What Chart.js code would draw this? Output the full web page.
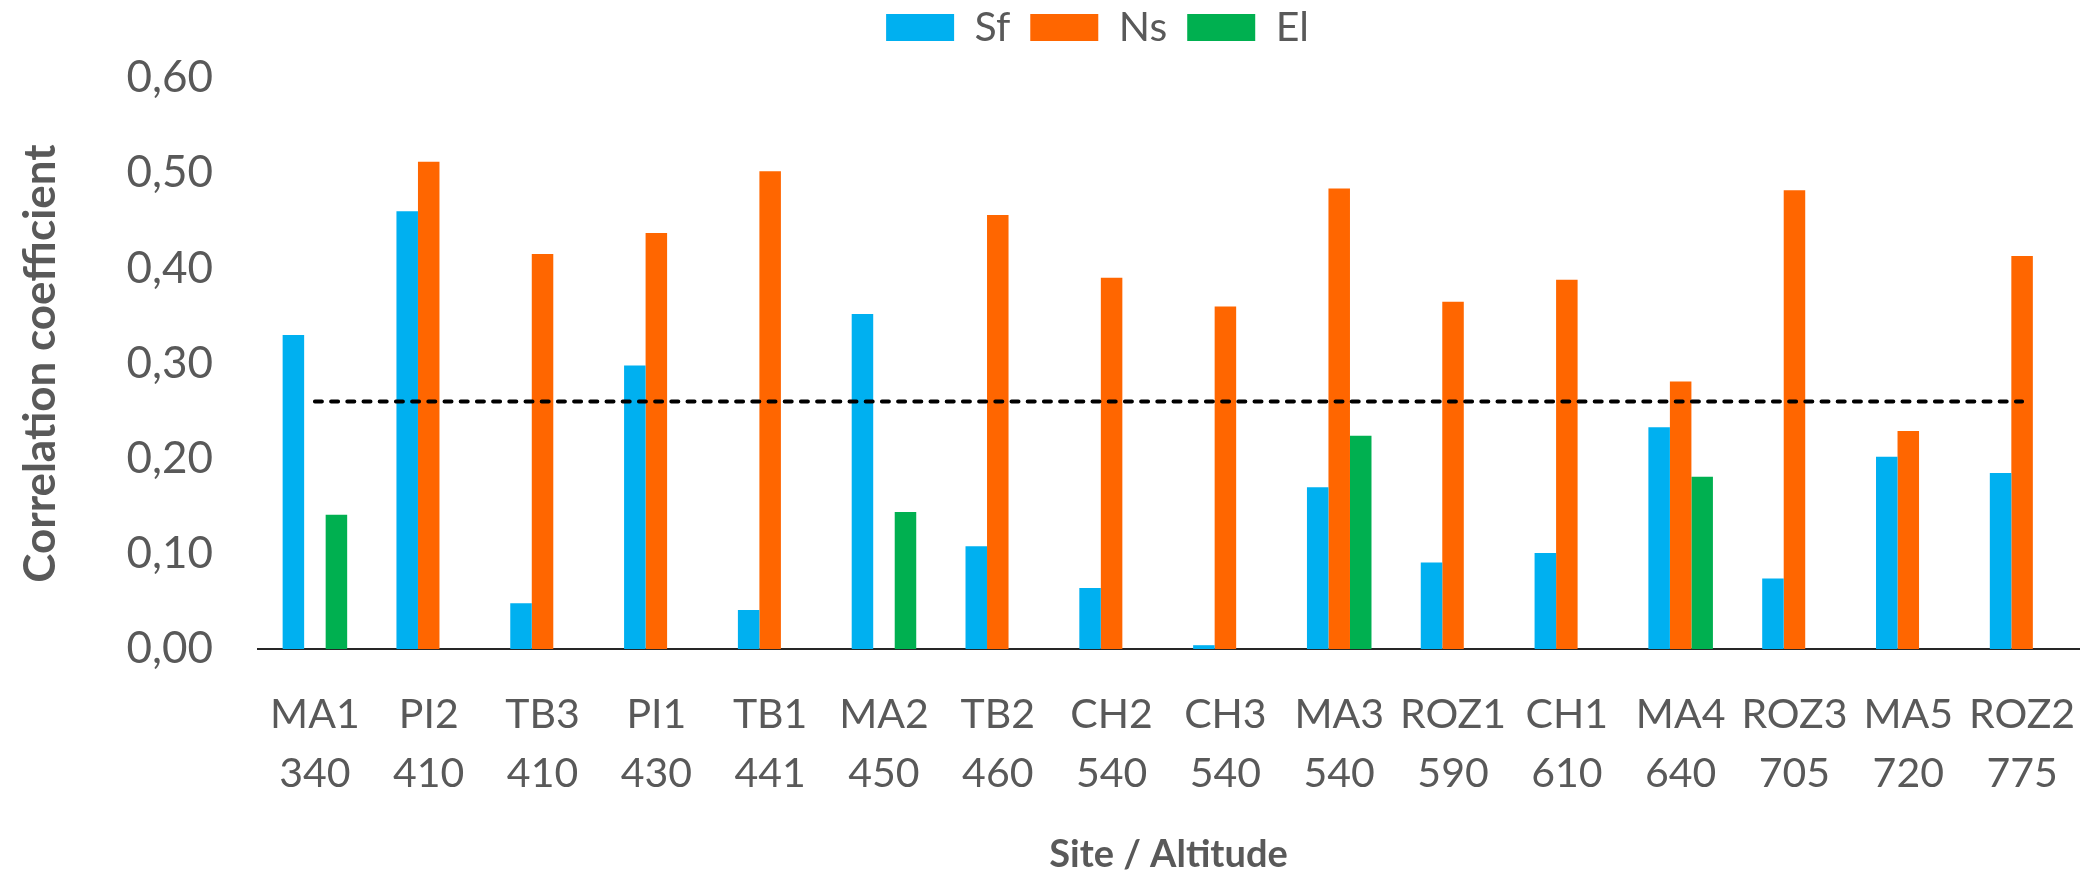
<!DOCTYPE html>
<html>
<head>
<meta charset="utf-8">
<title>Correlation coefficient by site</title>
<script src="https://cdn.jsdelivr.net/npm/chart.js@4.4.1/dist/chart.umd.min.js"></script>
<style>
  html, body { margin: 0; padding: 0; background: #fff; }
  #wrap { width: 2088px; height: 873px; }
</style>
</head>
<body>
<div id="wrap"><canvas id="corrChart" width="2088" height="873"></canvas></div>
<script>
// Sites ordered by altitude
const sites = ['MA1', 'PI2', 'TB3', 'PI1', 'TB1', 'MA2', 'TB2', 'CH2', 'CH3', 'MA3', 'ROZ1', 'CH1', 'MA4', 'ROZ3', 'MA5', 'ROZ2'];
const altitudes = ['340', '410', '410', '430', '441', '450', '460', '540', '540', '540', '590', '610', '640', '705', '720', '775'];

const sfValues = [0.330, 0.460, 0.048, 0.298, 0.041, 0.352, 0.108, 0.064, 0.004, 0.170, 0.091, 0.101, 0.233, 0.074, 0.202, 0.185];
const nsValues = [null, 0.512, 0.415, 0.437, 0.502, null, 0.456, 0.390, 0.360, 0.484, 0.365, 0.388, 0.281, 0.482, 0.229, 0.413];
const elValues = [0.141, null, null, null, null, 0.144, null, null, null, 0.224, null, null, 0.181, null, null, null];

// significance threshold (dashed line)
const thresholdValues = [0.26, 0.26, 0.26, 0.26, 0.26, 0.26, 0.26, 0.26, 0.26, 0.26, 0.26, 0.26, 0.26, 0.26, 0.26, 0.26];

const yTicks = [0, 0.1, 0.2, 0.3, 0.4, 0.5, 0.6];

const textColor = '#595959';
Chart.defaults.font.family = 'Lato, Carlito, Calibri, sans-serif';
Chart.defaults.color = textColor;

// Excel puts the legend a bit right of centre and higher in its box
const legendNudge = {
    id: 'legendNudge',
    afterLayout(chart) {
        const lg = chart.legend;
        lg.left += 58;
        lg.right += 58;
        lg.top -= 20;
        lg.bottom -= 20;
    }
};

const ctx = document.getElementById('corrChart').getContext('2d');

const myChart = new Chart(ctx, {
    type: 'bar',
    data: {
        labels: sites.map((s, i) => [s, altitudes[i]]),
        datasets: [
            {
                type: 'line',
                label: 'threshold',
                data: thresholdValues,
                borderColor: '#000000',
                borderWidth: 4,
                borderDash: [7, 9.2],
                borderCapStyle: 'round',
                pointRadius: 0,
                fill: false,
                order: 0
            },
            { label: 'Sf', data: sfValues, backgroundColor: '#00B0F0', order: 1 },
            { label: 'Ns', data: nsValues, backgroundColor: '#FF6600', order: 1 },
            { label: 'El', data: elValues, backgroundColor: '#00B050', order: 1 }
        ]
    },
    options: {
        responsive: false,
        animation: false,
        layout: { padding: { top: 7, right: 9, bottom: 0, left: 0 } },
        datasets: {
            bar: { barPercentage: 1.0, categoryPercentage: 0.567 }
        },
        plugins: {
            legend: {
                position: 'top',
                labels: {
                    boxWidth: 68,
                    boxHeight: 27,
                    padding: 20,
                    color: textColor,
                    font: { size: 41 },
                    filter: item => item.text !== 'threshold'
                }
            },
            tooltip: { enabled: false }
        },
        scales: {
            x: {
                // hidden tick marks give the label gap without padding the sides
                grid: { display: false, drawTicks: true, tickLength: 36 },
                border: { display: true, color: '#262626', width: 2 },
                ticks: {
                    color: textColor,
                    font: { size: 41, lineHeight: 1.44 },
                    padding: 0,
                    maxRotation: 0,
                    autoSkip: false
                },
                title: {
                    display: true,
                    text: 'Site / Altitude',
                    color: textColor,
                    font: { size: 38, weight: 'bold', lineHeight: 0.95 },
                    padding: { top: 0, bottom: 0 }
                },
                afterFit: scale => { scale.height = 224; }
            },
            y: {
                min: 0,
                max: 0.6,
                grid: { display: false, drawTicks: false },
                border: { display: false },
                afterBuildTicks: scale => { scale.ticks = yTicks.map(v => ({ value: v })); },
                ticks: {
                    color: textColor,
                    font: { size: 44 },
                    padding: 45,
                    callback: v => v.toFixed(2).replace('.', ',')
                },
                title: {
                    display: true,
                    text: 'Correlation coefficient',
                    color: textColor,
                    font: { size: 44, weight: 'bold', lineHeight: 1 },
                    padding: { top: 19, bottom: 0 }
                },
                afterFit: scale => { scale.width = 258; }
            }
        }
    },
    plugins: [legendNudge]
});
</script>
</body>
</html>
